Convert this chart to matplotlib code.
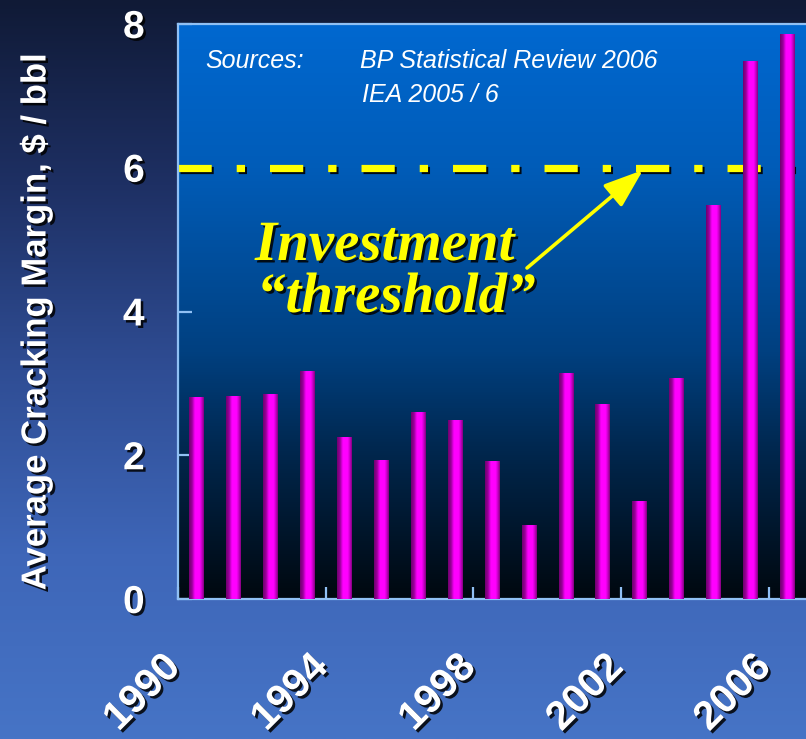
import numpy as np
import matplotlib
matplotlib.use("Agg")
import matplotlib.pyplot as plt
import matplotlib.patheffects as pe
import matplotlib.transforms as mtransforms
from matplotlib.colors import LinearSegmentedColormap

# ---------------- data ----------------
years = list(range(1990, 2007))
margins = [2.80, 2.82, 2.85, 3.17, 2.25, 1.93, 2.60, 2.48, 1.91,
           1.02, 3.14, 2.70, 1.36, 3.07, 5.48, 7.48, 7.86]
tick_years = [1990, 1994, 1998, 2002, 2006]
y_ticks = [0, 2, 4, 6, 8]
threshold = 6
y_label = r"Average Cracking Margin, \$ / bbl"
sources_label = "Sources:"
sources = ["BP Statistical Review 2006", "IEA 2005 / 6"]
annot_lines = ["Investment", "\u201cthreshold\u201d"]

W, H = 806, 739
fig = plt.figure(figsize=(W / 100, H / 100), dpi=100)

def fx(px):
    return px / W

def fy(py):
    return 1 - py / H

# figure background gradient
bg = fig.add_axes([0, 0, 1, 1], zorder=-10)
bg.axis("off")
bg_cmap = LinearSegmentedColormap.from_list(
    "bg", ["#101a36", "#1e3064", "#2f4d94", "#3e66b8", "#4674c6"])
grad = np.linspace(0, 1, 512).reshape(-1, 1)
bg.imshow(grad, aspect="auto", cmap=bg_cmap, extent=[0, 1, 0, 1], origin="upper")
bg.set_xlim(0, 1)
bg.set_ylim(0, 1)

ax = fig.add_axes([fx(178), 1 - 599 / H, (805.5 - 178) / W, (599 - 24) / H])
xlim = (years[0] - 0.5, years[-1] + 0.5)
ylim = (y_ticks[0], y_ticks[-1])

plot_cmap = LinearSegmentedColormap.from_list(
    "plotbg", [(0.0, "#0068d0"), (0.25, "#005cb8"), (0.57, "#004080"),
               (0.75, "#00264c"), (1.0, "#00080f")])
ax.imshow(grad, aspect="auto", cmap=plot_cmap,
          extent=[xlim[0], xlim[1], ylim[0], ylim[1]], origin="upper", zorder=0)

# threshold line (under bars)
ax.axhline(threshold, color="#ffff00", lw=5.2,
           linestyle=(0, (4.6, 3.46, 1.15, 3.46)), dash_capstyle="butt",
           path_effects=[pe.SimpleLineShadow(offset=(1.6, -1.6), shadow_color="black", alpha=0.9),
                         pe.Normal()], zorder=2)

# bars with cylinder gradient
bar_cmap = LinearSegmentedColormap.from_list(
    "bar", [(0.0, "#70006f"), (0.2, "#9a009a"), (0.4, "#ff00ff"),
            (0.72, "#ff00ff"), (0.88, "#c000c0"), (1.0, "#84007f")])
bars = ax.bar(years, margins, width=0.38, color="none", edgecolor="none", zorder=3)
hgrad = np.linspace(0, 1, 64).reshape(1, -1)
for b in bars:
    x0, w, h = b.get_x(), b.get_width(), b.get_height()
    ax.imshow(hgrad, aspect="auto", cmap=bar_cmap,
              extent=[x0, x0 + w, 0, h], origin="lower", zorder=3)

ax.set_xlim(*xlim)
ax.set_ylim(*ylim)

# axes styling
spine_c = "#90c0f4"
for s in ["left", "bottom", "top"]:
    ax.spines[s].set_color(spine_c)
    ax.spines[s].set_linewidth(1.6)
ax.spines["right"].set_visible(False)

shadow = [pe.SimplePatchShadow(offset=(1.8, -1.8), shadow_rgbFace="black", alpha=0.85),
          pe.Normal()]

ax.set_yticks(y_ticks)
ax.set_yticklabels([str(v) for v in y_ticks])
ax.set_xticks([y - 0.5 for y in tick_years])
ax.set_xticklabels([str(y) for y in tick_years], rotation=45, ha="right")
ax.tick_params(axis="y", direction="in", length=10, width=1.6, color=spine_c,
               pad=24, labelsize=28, labelcolor="white")
ax.tick_params(axis="x", direction="in", length=8.5, width=1.6, color=spine_c,
               pad=40, labelsize=29, labelcolor="white")
for lab in ax.get_yticklabels() + ax.get_xticklabels():
    lab.set_fontfamily("Liberation Sans")
    lab.set_fontweight("bold")
    lab.set_path_effects(shadow)
shift = mtransforms.ScaledTranslation(0.095, 0.07, fig.dpi_scale_trans)
for lab in ax.get_xticklabels():
    lab.set_transform(lab.get_transform() + shift)

fig.text(fx(36), fy(322), y_label, rotation=90, ha="center", va="center",
         fontsize=25, fontweight="bold", color="white", family="Liberation Sans",
         path_effects=shadow)

# sources text
src_kw = dict(fontsize=18, style="italic", color="white", family="Liberation Sans",
              va="baseline", ha="left")
fig.text(fx(205), fy(68), sources_label, **src_kw)
fig.text(fx(360), fy(68), sources[0], **src_kw)
fig.text(fx(362), fy(102), sources[1], **src_kw)

# annotation
ann_kw = dict(fontsize=41, fontweight="bold", style="italic", color="#ffff00",
              family="Liberation Serif", va="baseline", ha="left",
              path_effects=[pe.SimplePatchShadow(offset=(1.8, -1.8), shadow_rgbFace="black", alpha=0.85),
                            pe.Normal()], zorder=6)
fig.text(fx(255), fy(260), annot_lines[0], **ann_kw)
fig.text(fx(257), fy(312), annot_lines[1], **ann_kw)

ax.annotate("", xy=(fx(643), fy(170)), xycoords="figure fraction",
            xytext=(fx(527), fy(268)), textcoords="figure fraction",
            arrowprops=dict(arrowstyle="-|>,head_length=1.1,head_width=0.4",
                            color="#ffff00", lw=2.6, mutation_scale=22,
                            shrinkA=0, shrinkB=0),
            zorder=6)

fig.savefig("out.png", dpi=100)
